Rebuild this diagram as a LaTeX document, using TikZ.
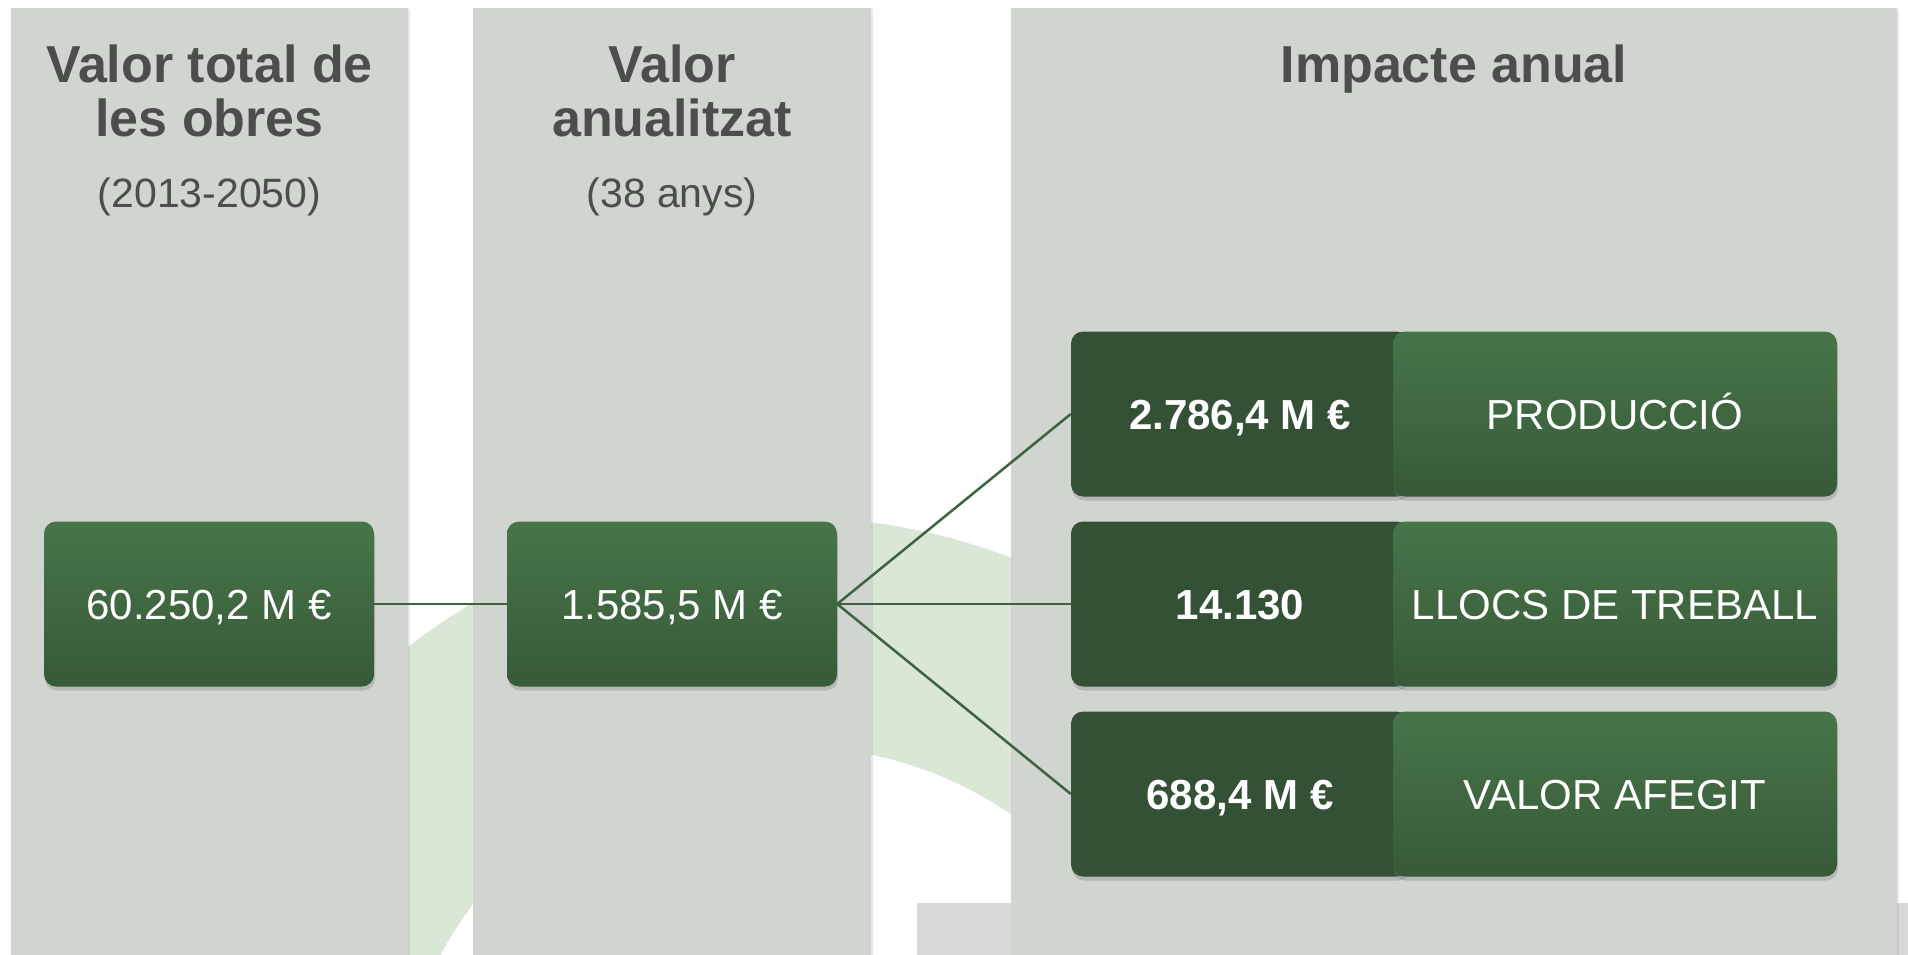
\documentclass[tikz,border=0pt]{standalone}
\usepackage{fontspec}
\setmainfont{Liberation Sans}
\usetikzlibrary{shadows}
\definecolor{colbg}{HTML}{D0D5CF}
\definecolor{titlegray}{HTML}{4D4D4D}
\definecolor{darkgreen}{HTML}{345136}
\definecolor{gtop}{HTML}{47754A}
\definecolor{gbot}{HTML}{375A38}
\definecolor{linegreen}{HTML}{3E6340}
\definecolor{ringgreen}{HTML}{DAE6D6}
\definecolor{graybar}{HTML}{D9D9D9}
\begin{document}
\begin{tikzpicture}[x=1pt,y=-1pt,
  panel/.style={rectangle, fill=colbg, inner sep=0pt, outer sep=0pt, anchor=north west,
    drop shadow={opacity=0.18, shadow xshift=2pt, shadow yshift=-1pt}},
  title/.style={anchor=base, inner sep=0pt, text=titlegray, font=\fontsize{52}{56}\selectfont\bfseries},
  subtitle/.style={anchor=base, inner sep=0pt, text=titlegray, font=\fontsize{41}{46}\selectfont},
  boxbase/.style={rectangle, rounded corners=12pt, inner sep=0pt, text=white,
    text height=30pt, text depth=0pt, minimum height=165pt,
    drop shadow={opacity=0.35, shadow xshift=1pt, shadow yshift=-4pt}},
  gbox/.style={boxbase, top color=gtop, bottom color=gbot, font=\fontsize{42}{48}\selectfont},
  dbox/.style={boxbase, fill=darkgreen, font=\fontsize{42}{48}\selectfont\bfseries},
  conn/.style={draw=linegreen, line width=2.5pt}
]
% page
\fill[white] (0,0) rectangle (1908,955);
\useasboundingbox (0,0) rectangle (1908,955);
% faint background logo
\fill[graybar] (917,903) rectangle (1908,955);
\fill[ringgreen, even odd rule] (789,1141) circle[radius=624pt] (789,1141) circle[radius=395pt];
% panels
\node[panel, minimum width=397pt, minimum height=950pt] (col1) at (11,8) {};
\node[panel, minimum width=398pt, minimum height=950pt] (col2) at (473,8) {};
\node[panel, minimum width=886pt, minimum height=950pt] (col3) at (1011,8) {};
% titles
\node[title] (t1a) at (209.5,83) {Valor total de};
\node[title] (t1b) at (209.5,137) {les obres};
\node[subtitle] (s1) at (209.5,207) {(2013-2050)};
\node[title] (t2a) at (672,83) {Valor};
\node[title] (t2b) at (672,137) {anualitzat};
\node[subtitle] (s2) at (672,207) {(38 anys)};
\node[title] (t3) at (1454,83) {Impacte anual};
% boxes
\node[gbox, minimum width=330pt] (b1) at (209,604) {60.250,2 M €};
\node[gbox, minimum width=330pt] (b2) at (672,604) {1.585,5 M €};
\node[dbox, minimum width=338pt] (d1) at (1240,414) {2.786,4 M €};
\node[dbox, minimum width=338pt] (d2) at (1240,604) {14.130};
\node[dbox, minimum width=338pt] (d3) at (1240,794) {688,4 M €};
\node[gbox, minimum width=444pt] (l1) at (1615,414) {PRODUCCIÓ};
\node[gbox, minimum width=444pt] (l2) at (1615,604) {LLOCS DE TREBALL};
\node[gbox, minimum width=444pt] (l3) at (1615,794) {VALOR AFEGIT};
% connectors
\draw[conn] (b1.east) -- (b2.west);
\draw[conn] (b2.east) -- (d1.west);
\draw[conn] (b2.east) -- (d2.west);
\draw[conn] (b2.east) -- (d3.west);
\end{tikzpicture}
\end{document}
